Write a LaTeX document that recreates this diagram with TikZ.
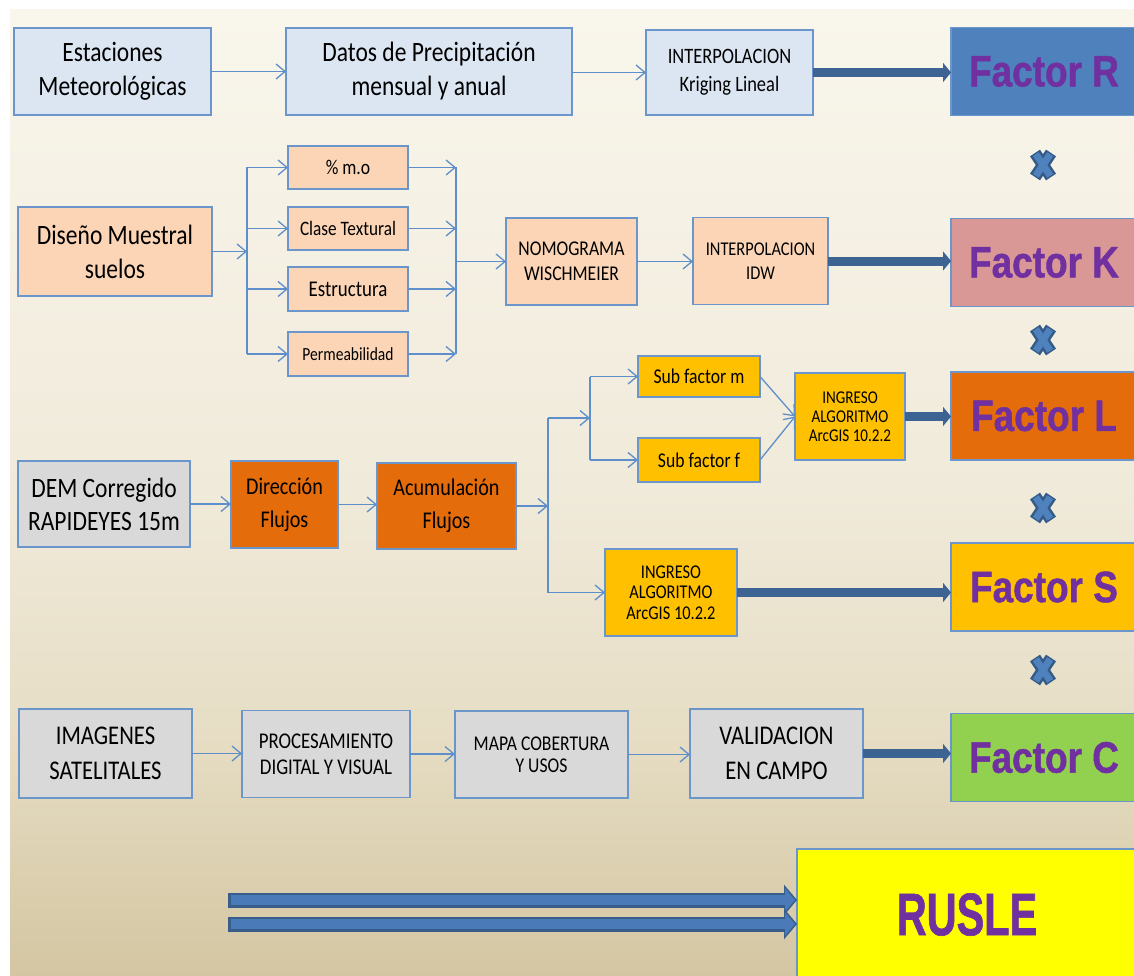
\documentclass[tikz,border=0pt]{standalone}
\usepackage{fontspec}
\setmainfont{Carlito}[FakeStretch=0.84]
\newfontfamily\factorfont{Liberation Sans}[FakeStretch=0.84,FakeBold=1]
\newfontfamily\ruslefont{Liberation Sans}[FakeStretch=0.69,FakeBold=1]
\usetikzlibrary{arrows.meta}

\definecolor{bgtop}{HTML}{F9F6EC}
\definecolor{bgmid}{HTML}{F0EADA}
\definecolor{bglow}{HTML}{E6DDC4}
\definecolor{bgbot}{HTML}{D4C6A2}
\definecolor{bord}{HTML}{6A96CC}
\definecolor{lnk}{HTML}{5F8FCA}
\definecolor{feedc}{HTML}{3D6393}
\definecolor{bigdark}{HTML}{385D8A}
\definecolor{bigfill}{HTML}{4A7AB8}
\definecolor{xdark}{HTML}{345A88}
\definecolor{xblue}{HTML}{4F81BD}
\definecolor{purp}{HTML}{7030A0}
\definecolor{cblue}{HTML}{DCE6F2}
\definecolor{cpeach}{HTML}{FBD5B5}
\definecolor{cgray}{HTML}{D9D9D9}
\definecolor{corange}{HTML}{E46C0A}
\definecolor{cgold}{HTML}{FFC000}
\definecolor{cR}{HTML}{4F81BD}
\definecolor{cK}{HTML}{D99795}
\definecolor{cC}{HTML}{92D050}
\definecolor{cyel}{HTML}{FFFF00}

\pgfdeclareverticalshading{bgshade}{100bp}{color(0bp)=(bgbot); color(25bp)=(bgbot); color(37.5bp)=(bglow); color(50bp)=(bgmid); color(75bp)=(bgtop); color(100bp)=(bgtop)}

\newcommand\setfs[2]{\fontsize{#1}{#2}\selectfont}

\tikzset{
  bx/.style={draw=bord, line width=1.4pt, inner sep=0pt, outer sep=0pt, align=center, text=black},
  factor/.style={bx, minimum width=186pt, minimum height=88pt, text=purp,
    font=\factorfont\bfseries\setfs{44}{50}},
  flow/.style={draw=lnk, line width=1.3pt, -{Straight Barb[length=9pt,width=15pt]}},
  busline/.style={draw=lnk, line width=1.3pt},
  feed/.style={draw=feedc, line width=9pt, -{Triangle[length=8pt,width=19pt]}},
  bigarr/.style={draw=bigdark, line width=15pt, -{Triangle[length=13pt,width=30pt]},
    postaction={draw=bigfill, line width=10pt, -{Triangle[length=10pt,width=23pt]}, shorten >=2pt, shorten <=2.5pt}},
  xstroke/.style={line width=#1, line cap=butt},
}

\begin{document}
\begin{tikzpicture}[x=1pt,y=-1pt]
\useasboundingbox (0,0) rectangle (1134,976);
\fill[white] (0,0) rectangle (1134,976);
\shade[shading=bgshade] (10,10) rectangle (1134,976);

% ---- rainfall erosivity chain
\node[bx, fill=cblue, minimum width=197pt, minimum height=87pt, font=\setfs{28}{34}] (est) at (112.5,71.5) {Estaciones\\Meteorológicas};
\node[bx, fill=cblue, minimum width=286pt, minimum height=87pt, font=\setfs{28}{34}] (datos) at (429,71.5) {Datos de Precipitación\\mensual y anual};
\node[bx, fill=cblue, minimum width=167pt, minimum height=85pt, font=\setfs{22}{28}] (krig) at (729.5,72.5) {INTERPOLACION\\Kriging Lineal};
\node[factor, fill=cR] (fR) at (1044,71.5) {Factor R};

% ---- soil erodibility chain
\node[bx, fill=cpeach, minimum width=194pt, minimum height=89pt, font=\setfs{28}{34}] (dis) at (115,251.5) {Diseño Muestral\\suelos};
\node[bx, fill=cpeach, minimum width=120pt, minimum height=43pt, font=\setfs{21}{25}] (mo) at (348,167.5) {\% m.o};
\node[bx, fill=cpeach, minimum width=120pt, minimum height=43pt, font=\setfs{20.5}{24}] (clase) at (348,228.5) {Clase Textural};
\node[bx, fill=cpeach, minimum width=120pt, minimum height=44pt, font=\setfs{22.5}{26}] (estr) at (348,289) {Estructura};
\node[bx, fill=cpeach, minimum width=120pt, minimum height=44pt, font=\setfs{18.5}{22}] (perm) at (348,354) {Permeabilidad};
\node[bx, fill=cpeach, minimum width=131pt, minimum height=87pt, font=\setfs{21}{25}] (nomo) at (571.5,261.5) {NOMOGRAMA\\WISCHMEIER};
\node[bx, fill=cpeach, minimum width=135pt, minimum height=87pt, font=\setfs{19.5}{24}] (idw) at (760.5,261) {INTERPOLACION\\IDW};
\node[factor, fill=cK] (fK) at (1044,262.5) {Factor K};

% ---- slope length and steepness chain
\node[bx, fill=cgray, minimum width=172pt, minimum height=86pt, font=\setfs{28}{33}] (dem) at (104,504) {DEM Corregido\\RAPIDEYES 15m};
\node[bx, fill=corange, minimum width=107pt, minimum height=87pt, font=\setfs{24}{33}] (dir) at (284.5,504.5) {Dirección\\Flujos};
\node[bx, fill=corange, minimum width=139pt, minimum height=86pt, font=\setfs{24}{33}] (acu) at (446.5,506) {Acumulación\\Flujos};
\node[bx, fill=cgold, minimum width=122pt, minimum height=41pt, font=\setfs{21}{25}] (subm) at (699,376.5) {Sub factor m};
\node[bx, fill=cgold, minimum width=122pt, minimum height=44pt, font=\setfs{21}{25}] (subf) at (699,460) {Sub factor f};
\node[bx, fill=cgold, minimum width=110pt, minimum height=87pt, font=\setfs{18}{19}] (ingL) at (850,416.5) {INGRESO\\ALGORITMO\\ArcGIS 10.2.2};
\node[bx, fill=cgold, minimum width=132pt, minimum height=87pt, font=\setfs{19.5}{20.5}] (ingS) at (671,592.5) {INGRESO\\ALGORITMO\\ArcGIS 10.2.2};
\node[factor, fill=corange] (fL) at (1044,416) {Factor L};
\node[factor, fill=cgold] (fS) at (1044,587) {Factor S};

% ---- land cover chain
\node[bx, fill=cgray, minimum width=173pt, minimum height=89pt, font=\setfs{27}{35}] (img) at (105.5,753.5) {IMAGENES\\SATELITALES};
\node[bx, fill=cgray, minimum width=168pt, minimum height=87pt, font=\setfs{22.5}{26}] (proc) at (326,754) {PROCESAMIENTO\\DIGITAL Y VISUAL};
\node[bx, fill=cgray, minimum width=173pt, minimum height=87pt, font=\setfs{21}{22}] (mapa) at (541.5,754.5) {MAPA COBERTURA\\Y USOS};
\node[bx, fill=cgray, minimum width=173pt, minimum height=89pt, font=\setfs{27}{35}] (val) at (776.5,753.5) {VALIDACION\\EN CAMPO};
\node[factor, fill=cC] (fC) at (1044,757.5) {Factor C};

% ---- final model
\node[bx, fill=cyel, minimum width=340pt, minimum height=131pt, text=purp,
      font=\ruslefont\bfseries\setfs{60}{66}] (rusle) at (967,914.5) {RUSLE};

% ---- connectors: R
\draw[flow] (est.east) -- (est.east -| datos.west);
\draw[flow] (krig.west -| datos.east) -- (krig.west);
\draw[feed] (krig.east) -- (krig.east -| fR.west);

% ---- connectors: K
\coordinate (kbl) at (247,0);
\coordinate (kbr) at (456,0);
\draw[flow] (dis.east) -- (dis.east -| kbl);
\draw[busline] (kbl |- mo) -- (kbl |- perm);
\draw[busline] (kbr |- mo) -- (kbr |- perm);
\foreach \n in {mo,clase,estr,perm} {
  \draw[flow] (kbl |- \n) -- (\n.west);
  \draw[flow] (\n.east) -- (\n.east -| kbr);
}
\draw[flow] (kbr |- nomo) -- (nomo.west);
\draw[flow] (nomo.east) -- (nomo.east -| idw.west);
\draw[feed] (idw.east) -- (idw.east -| fK.west);

% ---- connectors: L and S
\coordinate (lb) at (548,0);
\coordinate (lb2) at (590,0);
\coordinate (lbtop) at (548,418);
\draw[flow] (dem.east) -- (dem.east -| dir.west);
\draw[flow] (dir.east) -- (dir.east -| acu.west);
\draw[flow] (acu.east) -- (acu.east -| lb);
\draw[busline] (lbtop) -- (lb |- ingS);
\draw[flow] (lbtop) -- (lbtop -| lb2);
\draw[busline] (lb2 |- subm) -- (lb2 |- subf);
\draw[flow] (lb2 |- subm) -- (subm.west);
\draw[flow] (lb2 |- subf) -- (subf.west);
\draw[flow] (subm.east) -- (ingL.west);
\draw[flow] (subf.east) -- (ingL.west);
\draw[flow] (lb |- ingS) -- (ingS.west);
\draw[feed] (ingL.east) -- (ingL.east -| fL.west);
\draw[feed] (ingS.east) -- (ingS.east -| fS.west);

% ---- connectors: C
\draw[flow] (img.east) -- (img.east -| proc.west);
\draw[flow] (proc.east) -- (proc.east -| mapa.west);
\draw[flow] (mapa.east) -- (mapa.east -| val.west);
\draw[feed] (val.east) -- (val.east -| fC.west);

% ---- product signs between the factors
\foreach \yy in {165,340,508,670} {
  \draw[xdark, xstroke=12pt] (1035,\yy-12) -- (1051,\yy+12) (1051,\yy-12) -- (1035,\yy+12);
  \draw[xblue, xstroke=7pt] (1035.8,\yy-10.8) -- (1050.2,\yy+10.8) (1050.2,\yy-10.8) -- (1035.8,\yy+10.8);
}

% ---- double arrow into RUSLE
\coordinate (ra) at (228,900);
\coordinate (rb) at (228,924);
\draw[bigarr] (ra) -- (ra -| rusle.west);
\draw[bigarr] (rb) -- (rb -| rusle.west);
\end{tikzpicture}
\end{document}
